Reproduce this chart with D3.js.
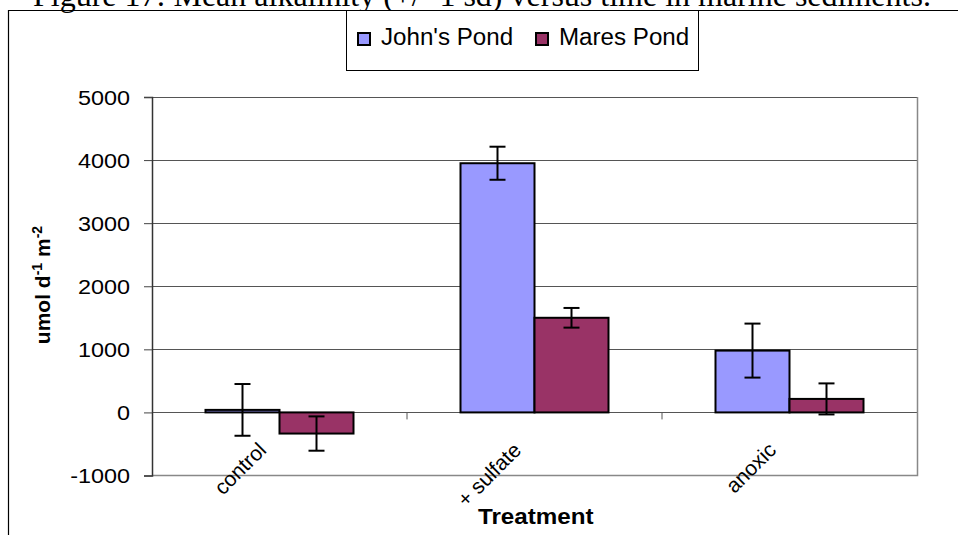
<!DOCTYPE html>
<html>
<head>
<meta charset="utf-8">
<script src="https://cdn.jsdelivr.net/npm/d3@7"></script>
<style>
body { margin: 0; background: #fff; }
svg text { font-family: Arial, "Liberation Sans", sans-serif; }
</style>
</head>
<body>
<div id="chart"></div>
<script>
var categories = ["control", "+ sulfate", "anoxic"];
var seriesNames = ["John's Pond", "Mares Pond"];
var seriesColors = ["#9999FF", "#993366"];
var johnsMean = [40, 3950, 980];
var johnsSd = [410, 262, 428];
var maresMean = [-335, 1500, 214];
var maresSd = [272, 156, 246];
var yTicks = [-1000, 0, 1000, 2000, 3000, 4000, 5000];

var W = 958, H = 535;
var margin = {top: 97, left: 152},
    width = 917 - 152,
    height = 475.5 - 97;

// the chart was stretched sideways when pasted, so the text is wider than tall
function widen(sel, k) {
  sel.each(function() {
    var len = this.getComputedTextLength();
    d3.select(this)
      .attr("textLength", len * k)
      .attr("lengthAdjust", "spacingAndGlyphs");
  });
}

var svg = d3.select("#chart")
  .append("svg")
    .attr("width", W)
    .attr("height", H);

// page title (cut off at the top)
svg.append("text")
  .attr("x", 33)
  .attr("y", 6)
  .style("font-family", "'Liberation Serif', 'Times New Roman', serif")
  .style("font-size", "32px")
  .text("Figure 17:  Mean alkalinity (+/- 1 sd) versus time in marine sediments.");

// outer frame
svg.append("path")
  .attr("d", "M8.5,535 L8.5,10.5 L958,10.5")
  .attr("fill", "none")
  .attr("stroke", "#000")
  .attr("stroke-width", 1.2);

var g = svg.append("g")
  .attr("transform", "translate(" + margin.left + "," + margin.top + ")");

var x = d3.scaleBand()
  .domain(categories)
  .range([0, width]);

var inner = d3.scaleBand()
  .domain(seriesNames)
  .range([0, 148])
  .padding(0);

var y = d3.scaleLinear()
  .domain([-1000, 5000])
  .range([height, 0]);

// gridlines
g.selectAll(".grid")
  .data(yTicks.filter(function(d) { return d > -1000; }))
  .enter().append("line")
    .attr("x1", 0)
    .attr("x2", width)
    .attr("y1", function(d) { return Math.round(y(d)) + 0.5; })
    .attr("y2", function(d) { return Math.round(y(d)) + 0.5; })
    .attr("stroke", "#555")
    .attr("stroke-width", 1.2);

// plot area border (right, bottom)
g.append("path")
  .attr("d", "M" + (width + 0.5) + ",0 L" + (width + 0.5) + "," + height + " L0," + height)
  .attr("fill", "none")
  .attr("stroke", "#888")
  .attr("stroke-width", 1.5);

var data = [];
categories.forEach(function(c, i) {
  data.push({cat: c, s: seriesNames[0], v: johnsMean[i], sd: johnsSd[i], color: seriesColors[0]});
  data.push({cat: c, s: seriesNames[1], v: maresMean[i], sd: maresSd[i], color: seriesColors[1]});
});

function bx(d) { return x(d.cat) + (x.bandwidth() - 148) / 2 + inner(d.s); }

g.selectAll(".bar")
  .data(data)
  .enter().append("rect")
    .attr("x", bx)
    .attr("width", inner.bandwidth())
    .attr("y", function(d) { return y(Math.max(0, d.v)); })
    .attr("height", function(d) { return Math.abs(y(d.v) - y(0)); })
    .attr("fill", function(d) { return d.color; })
    .attr("stroke", "#000")
    .attr("stroke-width", 2);

// error bars
var eb = g.selectAll(".err")
  .data(data)
  .enter().append("g")
    .attr("transform", function(d) { return "translate(" + (bx(d) + inner.bandwidth() / 2) + ",0)"; });
eb.append("line")
  .attr("y1", function(d) { return y(d.v + d.sd); })
  .attr("y2", function(d) { return y(d.v - d.sd); })
  .attr("stroke", "#000").attr("stroke-width", 2);
eb.append("line")
  .attr("x1", -8).attr("x2", 8)
  .attr("y1", function(d) { return y(d.v + d.sd); })
  .attr("y2", function(d) { return y(d.v + d.sd); })
  .attr("stroke", "#000").attr("stroke-width", 2);
eb.append("line")
  .attr("x1", -8).attr("x2", 8)
  .attr("y1", function(d) { return y(d.v - d.sd); })
  .attr("y2", function(d) { return y(d.v - d.sd); })
  .attr("stroke", "#000").attr("stroke-width", 2);

// y axis
var yAxis = g.append("g")
  .call(d3.axisLeft(y)
    .tickValues(yTicks)
    .tickFormat(function(d) { return String(d); })
    .tickSize(8)
    .tickPadding(14));
yAxis.select(".domain").attr("stroke", "#333").attr("stroke-width", 1.5);
yAxis.selectAll(".tick line").attr("stroke", "#444");
yAxis.selectAll("text")
  .attr("dy", "0.36em")
  .style("font-size", "19.5px")
  .style("font-family", "Arial, 'Liberation Sans', sans-serif")
  .attr("fill", "#000")
  .call(widen, 1.2);

// x axis ticks at zero line (category separators)
var xTicks = [x("+ sulfate"), x("anoxic")];
g.selectAll(".xtick")
  .data(xTicks)
  .enter().append("line")
    .attr("x1", function(d) { return d; })
    .attr("x2", function(d) { return d; })
    .attr("y1", y(0))
    .attr("y2", y(0) + 7)
    .attr("stroke", "#555");

// category labels, rotated
g.selectAll(".xlab")
  .data(categories)
  .enter().append("text")
    .attr("transform", function(d) {
      return "translate(" + (x(d) + x.bandwidth() / 2 - 12) + "," + (y(0) + 39) + ") rotate(-45)";
    })
    .style("text-anchor", "end")
    .style("font-size", "21px")
    .text(function(d) { return d; });

// axis titles
svg.append("text")
  .attr("transform", "translate(50,285) rotate(-90)")
  .style("text-anchor", "middle")
  .style("font-size", "21px")
  .style("font-weight", "bold")
  .html("umol d<tspan dy='-8' font-size='14px'>-1</tspan><tspan dy='8'> m</tspan><tspan dy='-8' font-size='14px'>-2</tspan>");

svg.append("text")
  .attr("x", 478)
  .attr("y", 524)
  .style("font-size", "22px")
  .style("font-weight", "bold")
  .text("Treatment")
  .call(widen, 1.1);

// legend
var lg = svg.append("g");
lg.append("rect")
  .attr("x", 346.5).attr("y", 10.5)
  .attr("width", 352).attr("height", 60)
  .attr("fill", "#fff")
  .attr("stroke", "#000");
var legX = [358, 536];
seriesNames.forEach(function(s, i) {
  lg.append("rect")
    .attr("x", legX[i]).attr("y", 33)
    .attr("width", 12).attr("height", 12)
    .attr("fill", seriesColors[i])
    .attr("stroke", "#000")
    .attr("stroke-width", 2);
  lg.append("text")
    .attr("x", legX[i] + 23)
    .attr("y", 45)
    .style("font-size", "23px")
    .text(s)
    .call(widen, 1.05);
});
</script>
</body>
</html>
